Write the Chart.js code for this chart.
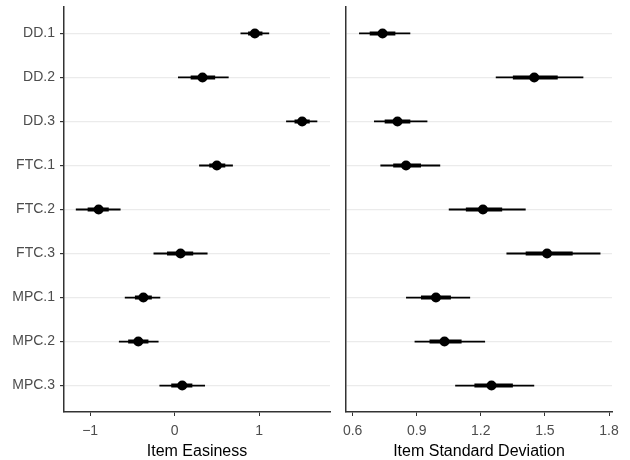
<!DOCTYPE html>
<html>
<head>
<meta charset="utf-8">
<script src="https://cdn.jsdelivr.net/npm/chart.js@4.4.1/dist/chart.umd.min.js"></script>
<style>
  body { margin: 0; background: #fff; }
  canvas { position: absolute; top: 0; }
  #easeChart { left: 0; }
  #sdChart { left: 338px; }
</style>
</head>
<body>
<canvas id="easeChart" width="338" height="460"></canvas>
<canvas id="sdChart" width="292" height="460"></canvas>
<script>
const items = ['DD.1', 'DD.2', 'DD.3', 'FTC.1', 'FTC.2', 'FTC.3', 'MPC.1', 'MPC.2', 'MPC.3'];

// Item easiness: median, inner interval, outer interval
const easeMid     = [0.95, 0.33, 1.51, 0.50, -0.90, 0.07, -0.37, -0.43, 0.09];
const easeInnerLo = [0.87, 0.19, 1.42, 0.41, -1.03, -0.09, -0.47, -0.55, -0.04];
const easeInnerHi = [1.04, 0.48, 1.60, 0.60, -0.78, 0.22, -0.27, -0.31, 0.21];
const easeOuterLo = [0.78, 0.04, 1.32, 0.29, -1.17, -0.25, -0.59, -0.66, -0.18];
const easeOuterHi = [1.12, 0.64, 1.69, 0.69, -0.64, 0.39, -0.17, -0.19, 0.36];

// Item standard deviation
const sdMid     = [0.74, 1.45, 0.81, 0.85, 1.21, 1.51, 0.99, 1.03, 1.25];
const sdInnerLo = [0.68, 1.35, 0.75, 0.79, 1.13, 1.41, 0.92, 0.96, 1.17];
const sdInnerHi = [0.80, 1.56, 0.87, 0.92, 1.30, 1.63, 1.06, 1.11, 1.35];
const sdOuterLo = [0.63, 1.27, 0.70, 0.73, 1.05, 1.32, 0.85, 0.89, 1.08];
const sdOuterHi = [0.87, 1.68, 0.95, 1.01, 1.41, 1.76, 1.15, 1.22, 1.45];

const easeTicks = [-1, 0, 1];
const sdTicks = [0.6, 0.9, 1.2, 1.5, 1.8];

function segments(lo, hi) {
   let pts = [];
   lo.forEach((v, i) => {
      pts.push({x: v, y: i + 1});
      pts.push({x: hi[i], y: i + 1});
      pts.push({x: null, y: null});
   });
   return pts;
}

function makeChart(id, opts) {
   const ctx = document.getElementById(id).getContext('2d');
   return new Chart(ctx, {
      type: 'scatter',
      data: {
         datasets: [
            {
               data: segments(opts.outerLo, opts.outerHi),
               showLine: true, spanGaps: false,
               borderColor: '#000', borderWidth: 1.8,
               borderCapStyle: 'butt', pointRadius: 0
            },
            {
               data: segments(opts.innerLo, opts.innerHi),
               showLine: true, spanGaps: false,
               borderColor: '#000', borderWidth: 4,
               borderCapStyle: 'butt', pointRadius: 0
            },
            {
               data: opts.mid.map((v, i) => ({x: v, y: i + 1})),
               backgroundColor: '#000', borderColor: '#000',
               pointRadius: 5, borderWidth: 0
            }
         ]
      },
      options: {
         responsive: false,
         animation: false,
         layout: { padding: { top: 7, right: opts.padRight, bottom: 0, left: 0 } },
         plugins: { legend: { display: false }, tooltip: { enabled: false } },
         scales: {
            x: {
               type: 'linear',
               min: opts.xmin, max: opts.xmax,
               afterBuildTicks: s => { s.ticks = opts.ticks.map(v => ({value: v})); },
               afterFit: s => { s.height = 48; s.paddingLeft = 0; s.paddingRight = 0; },
               border: { color: '#333', width: 1.5 },
               grid: { drawOnChartArea: false, tickColor: '#333', tickLength: 4 },
               ticks: {
                  color: '#4d4d4d', padding: 7,
                  font: { family: 'Liberation Sans', size: 14 },
                  callback: opts.fmt
               },
               title: {
                  display: true, text: opts.title, color: '#000',
                  font: { family: 'Liberation Sans', size: 16, lineHeight: 1 },
                  padding: { top: 0, bottom: 0 }
               }
            },
            y: {
               type: 'linear',
               reverse: true,
               min: 0.4, max: 9.6,
               afterBuildTicks: s => { s.ticks = items.map((_, i) => ({value: i + 1})); },
               afterFit: s => { s.width = opts.yWidth; s.paddingTop = 0; s.paddingBottom = 0; },
               border: { color: '#333', width: 1.5 },
               grid: {
                  color: '#ebebeb', lineWidth: 1.2,
                  tickColor: opts.showLabels ? '#333' : 'rgba(0,0,0,0)',
                  tickLength: opts.showLabels ? 4 : 0
               },
               ticks: {
                  display: opts.showLabels,
                  color: '#4d4d4d', padding: 5,
                  font: { family: 'Liberation Sans', size: 14 },
                  callback: v => items[v - 1]
               }
            }
         }
      }
   });
}

makeChart('easeChart', {
   mid: easeMid, innerLo: easeInnerLo, innerHi: easeInnerHi,
   outerLo: easeOuterLo, outerHi: easeOuterHi,
   xmin: -1.31, xmax: 1.84, ticks: easeTicks,
   fmt: v => v < 0 ? '\u2212' + Math.abs(v) : String(v),
   title: 'Item Easiness', padRight: 8, yWidth: 64, showLabels: true
});

makeChart('sdChart', {
   mid: sdMid, innerLo: sdInnerLo, innerHi: sdInnerHi,
   outerLo: sdOuterLo, outerHi: sdOuterHi,
   xmin: 0.569, xmax: 1.814, ticks: sdTicks,
   fmt: v => v.toFixed(1),
   title: 'Item Standard Deviation', padRight: 18, yWidth: 8, showLabels: false
});
</script>
</body>
</html>
